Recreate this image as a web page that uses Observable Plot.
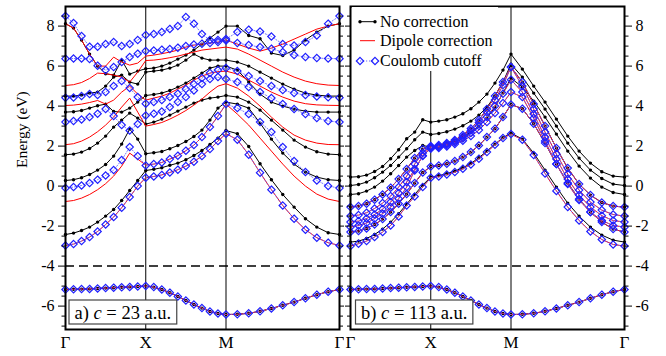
<!DOCTYPE html>
<html><head><meta charset="utf-8">
<script src="https://cdn.jsdelivr.net/npm/d3@7"></script>
<script src="https://cdn.jsdelivr.net/npm/@observablehq/plot@0.6"></script>
<style>
body{margin:0;background:#fff;}
#chart{position:relative;width:666px;height:356px;overflow:hidden;}
#chart svg{position:absolute;top:0;}
#chart svg, #chart svg *{font-family:"Liberation Serif","DejaVu Serif",serif !important;}
</style></head><body><div id="chart"></div>
<script>
// ---- k-path: Γ–X–M–Γ, 10 intervals per segment, segment lengths 1, 1, √2
const kLabels = ["Γ", "X", "M", "Γ"];
const segLengths = [1, 1, Math.SQRT2];
const perSeg = 10;

// ---- shared lowest band (identical in all cases)
const bottomBand = [-5.17,-5.16,-5.15,-5.14,-5.12,-5.1,-5.08,-5.06,-5.04,-5.02,-5.0,
  -5.05,-5.17,-5.33,-5.52,-5.72,-5.92,-6.1,-6.27,-6.37,-6.42,
  -6.41,-6.36,-6.26,-6.12,-5.96,-5.8,-5.61,-5.43,-5.28,-5.17];

// ---- panel a) c = 23 a.u.
const aNoCorr = [
  [-2.42,-2.35,-2.22,-2.05,-1.8,-1.5,-1.17,-0.72,-0.22,0.28,0.78, 0.84,0.92,1.04,1.15,1.32,1.53,1.78,2.08,2.4,2.78, 2.62,1.98,1.12,0.32,-0.42,-1.05,-1.63,-2.05,-2.33,-2.42],
  [0.28,0.32,0.42,0.58,0.8,1.08,1.5,2.1,2.85,2.35,1.62, 1.67,1.73,1.87,2.03,2.23,2.48,2.8,3.3,3.9,4.2, 4.1,3.9,3.15,2.35,1.65,1.1,0.7,0.45,0.32,0.28],
  [1.57,1.6,1.7,1.88,2.15,2.5,2.95,3.3,3.65,3.4,3.1, 3.2,3.35,3.55,3.75,3.95,4.15,4.3,4.4,4.45,4.53, 4.45,4.2,3.8,3.3,2.8,2.3,1.95,1.72,1.6,1.57],
  [3.7,3.72,3.78,3.9,4.02,4.1,3.73,3.7,3.9,4.2,4.53, 4.58,4.65,4.78,4.95,5.15,5.4,5.65,5.9,6.0,6.0, 5.8,5.2,4.6,4.2,4.0,3.85,3.75,3.7,3.7,3.7],
  [4.5,4.5,4.55,4.65,4.7,5.0,5.45,5.55,5.2,5.1,5.7, 5.75,5.8,5.9,6.05,6.3,6.6,6.4,6.3,6.3,6.3, 6.2,6.0,5.7,5.4,5.1,4.85,4.65,4.55,4.5,4.5],
  [8.12,7.9,7.3,6.6,6.0,5.62,5.55,6.3,5.6,5.75,5.87, 5.9,6.0,6.15,6.35,6.55,6.8,7.1,7.4,7.7,8.0, 8.0,7.53,7.37,6.65,6.53,6.8,7.3,7.7,8.0,8.12]
];
const aCutoff = [
  [-2.97,-2.9,-2.75,-2.55,-2.27,-1.92,-1.55,-1.08,-0.55,0.0,0.42, 0.48,0.56,0.68,0.82,1.0,1.22,1.5,1.85,2.25,2.62, 2.32,1.57,0.67,-0.18,-0.97,-1.63,-2.18,-2.58,-2.83,-2.97],
  [-0.1,-0.05,0.03,0.15,0.32,0.53,0.8,1.3,1.95,1.5,1.03, 1.1,1.18,1.35,1.52,1.77,2.05,2.45,2.95,3.5,4.1, 3.9,3.6,3.2,2.7,1.95,1.25,0.7,0.28,0.0,-0.1],
  [3.2,3.25,3.33,3.45,3.62,3.85,3.5,3.05,2.78,3.1,3.53, 3.62,3.73,3.95,4.2,4.45,4.78,5.1,5.35,5.45,5.35, 5.2,4.95,4.7,4.4,4.1,3.85,3.6,3.4,3.25,3.2],
  [4.42,4.43,4.5,4.6,4.55,4.7,5.0,5.25,4.9,4.45,4.12, 4.2,4.3,4.45,4.62,4.85,5.1,5.4,5.65,5.8,5.9, 5.75,5.5,5.25,5.0,4.8,4.65,4.55,4.48,4.44,4.42],
  [6.37,6.38,6.38,6.35,6.02,5.8,5.95,6.2,6.45,6.62,6.75, 6.78,6.82,6.85,6.92,7.0,7.08,7.12,7.15,7.2,7.28, 7.15,7.05,6.95,6.87,6.7,6.55,6.45,6.4,6.38,6.37],
  [8.5,8.15,7.5,6.97,6.97,7.1,7.2,7.0,7.1,7.3,7.55, 7.6,7.7,7.86,8.0,8.45,8.12,7.6,7.3,7.3,7.35, 7.7,7.82,7.73,7.48,7.1,7.03,7.2,7.53,8.12,8.5]
];
const aDipole = [
  [-2.97,-2.9,-2.75,-2.55,-2.27,-1.92,-1.55,-1.08,-0.55,0.0,0.42, 0.48,0.56,0.68,0.82,1.0,1.22,1.5,1.85,2.25,2.62, 2.32,1.57,0.67,-0.18,-0.97,-1.63,-2.18,-2.58,-2.83,-2.97],
  [-0.77,-0.72,-0.6,-0.42,-0.18,0.12,0.5,1.0,1.65,1.35,1.05, 1.1,1.18,1.35,1.52,1.77,2.05,2.45,2.95,3.5,4.1, 3.6,3.05,2.4,1.75,1.1,0.5,0.0,-0.4,-0.65,-0.77],
  [2.07,2.12,2.25,2.45,2.72,3.05,3.45,3.95,4.4,3.7,3.0, 3.08,3.18,3.35,3.55,3.78,4.05,4.35,4.7,5.0,5.12, 4.9,4.5,4.0,3.45,2.95,2.55,2.3,2.15,2.08,2.07],
  [4.03,4.05,4.1,4.18,4.28,4.1,4.3,4.7,5.0,4.6,4.3, 4.4,4.5,4.65,4.85,5.05,5.3,5.5,5.65,5.72,5.75, 5.6,5.3,5.0,4.7,4.45,4.25,4.12,4.06,4.04,4.03],
  [5.03,5.07,5.18,5.38,5.65,5.62,5.55,5.45,5.2,5.7,6.28, 6.3,6.35,6.42,6.5,6.6,6.7,6.8,6.85,6.9,6.95, 6.85,6.6,6.3,6.0,5.7,5.45,5.25,5.12,5.05,5.03],
  [8.12,7.9,7.3,6.6,6.0,6.0,6.45,6.2,6.05,6.15,6.5, 6.55,6.62,6.7,6.8,6.95,7.05,7.1,7.15,7.2,7.3, 7.1,6.9,6.75,6.9,7.1,7.35,7.6,7.85,8.0,8.12]
];

// ---- panel b) c = 113 a.u.
const bNoCorr = [
  [-2.8,-2.75,-2.62,-2.42,-2.15,-1.8,-1.38,-0.9,-0.42,0.05,0.45, 0.52,0.62,0.75,0.92,1.13,1.42,1.75,2.1,2.42,2.65, 2.35,1.65,0.8,-0.05,-0.85,-1.5,-2.05,-2.45,-2.7,-2.8],
  [-2.3,-2.25,-2.12,-1.92,-1.65,-1.3,-0.88,-0.4,0.15,0.68,0.98, 1.03,1.12,1.25,1.45,1.7,2.03,2.45,2.87,3.45,4.08, 3.87,3.12,2.15,1.1,0.15,-0.65,-1.3,-1.8,-2.15,-2.3],
  [-1.05,-1.0,-0.88,-0.68,-0.42,-0.08,0.35,0.85,1.4,1.85,2.0, 2.05,2.15,2.3,2.55,2.88,3.3,3.85,4.5,5.2,5.95, 5.2,4.1,3.0,1.9,0.9,0.1,-0.45,-0.82,-1.0,-1.05],
  [-0.42,-0.38,-0.25,-0.05,0.25,0.62,1.03,1.45,1.78,2.03,1.95, 2.0,2.1,2.25,2.45,2.7,3.0,3.4,3.95,4.65,5.4, 4.95,4.25,3.45,2.6,1.75,1.0,0.4,-0.05,-0.32,-0.42],
  [0.03,0.08,0.2,0.42,0.7,1.03,1.45,1.87,2.32,2.7,2.58, 2.63,2.72,2.85,3.02,3.25,3.55,3.95,4.5,5.2,6.1, 5.45,4.65,3.85,3.0,2.15,1.4,0.8,0.38,0.1,0.03],
  [0.45,0.47,0.55,0.73,0.98,1.37,1.82,2.37,2.7,3.32,3.2, 3.25,3.32,3.45,3.62,3.87,4.2,4.6,5.15,5.8,6.6, 5.85,5.0,4.2,3.35,2.5,1.75,1.15,0.72,0.5,0.45]
];
const bCutoff = [
  [-3.0,-2.88,-2.75,-2.55,-2.3,-1.97,-1.52,-0.97,-0.52,-0.05,0.42, 0.48,0.58,0.7,0.87,1.08,1.37,1.7,2.07,2.4,2.6, 2.32,1.55,0.63,-0.24,-1.05,-1.72,-2.27,-2.67,-2.92,-3.0],
  [-2.3,-2.25,-2.12,-1.92,-1.65,-1.3,-0.88,-0.4,0.15,0.68,0.98, 1.03,1.12,1.25,1.45,1.7,2.03,2.45,2.87,3.45,4.08, 3.87,3.12,2.15,1.1,0.15,-0.65,-1.3,-1.8,-2.15,-2.3],
  [-2.05,-1.97,-1.85,-1.63,-1.38,-1.05,-0.63,-0.05,0.78,1.53,1.87, 1.9,1.98,2.1,2.27,2.5,2.8,3.2,3.65,4.15,4.7, 4.45,3.4,2.25,1.1,0.1,-0.7,-1.3,-1.72,-1.97,-2.05],
  [-1.8,-1.75,-1.62,-1.42,-1.15,-0.8,-0.35,0.2,0.85,1.5,1.93, 1.96,2.05,2.18,2.38,2.65,3.0,3.45,4.0,4.62,5.32, 4.7,3.6,2.45,1.35,0.35,-0.45,-1.05,-1.48,-1.72,-1.8],
  [-1.5,-1.45,-1.33,-1.12,-0.85,-0.5,-0.05,0.5,1.1,1.65,1.97, 2.0,2.1,2.25,2.47,2.78,3.18,3.7,4.3,5.05,5.95, 5.0,3.85,2.7,1.6,0.6,-0.2,-0.8,-1.2,-1.42,-1.5],
  [-1.05,-1.0,-0.88,-0.68,-0.42,-0.08,0.35,0.85,1.4,1.85,2.0, 2.05,2.15,2.3,2.55,2.88,3.3,3.85,4.5,5.2,5.95, 5.2,4.1,3.0,1.9,0.9,0.1,-0.45,-0.82,-1.0,-1.05]
];
const bDipole = bCutoff; // dipole bands coincide with the cutoff bands here

// ---- axis ticks
const majorTicks = [-6, -4, -2, 0, 2, 4, 6, 8];
const minorTicks = [-7,-6.5,-5.5,-5,-4.5,-3.5,-3,-2.5,-1.5,-1,-0.5,0.5,1,1.5,2.5,3,3.5,4.5,5,5.5,6.5,7,7.5,8.5];
const yDomain = [-7.17, 8.98];
const refLine = -4;

// k-point positions along the path
const kx = [];
segLengths.forEach((len, s) => {
  const start = d3.sum(segLengths.slice(0, s));
  for (let i = (s === 0 ? 0 : 1); i <= perSeg; i++) kx.push(start + len * i / perSeg);
});
const kTicks = [0, 1, 2, d3.sum(segLengths)];
const kEnd = kTicks[3];

const FONT = "'Liberation Serif', 'DejaVu Serif', serif";

function rows(bands, name) {
  return [bottomBand, ...bands].flatMap((b, j) => b.map((e, i) => ({k: kx[i], e, band: name + j})));
}

function panel({noCorr, dipole, cutoff, width, marginLeft, marginRight, side}) {
  const black = rows(noCorr, "k"), red = rows(dipole, "r"), blue = rows(cutoff, "b");
  const frameW = width - marginLeft - marginRight;
  const pxPerK = frameW / kEnd;
  const ext = side === "left" ? [0, kEnd + marginRight / pxPerK] : [-marginLeft / pxPerK, kEnd];
  const marks = [
    Plot.ruleX([1, 2], {stroke: "#000", strokeWidth: 1}),
    Plot.ruleY([refLine], {x1: ext[0], x2: ext[1], stroke: "#000", strokeWidth: 1.5, strokeDasharray: "9,5"}),
    Plot.line(black, {x: "k", y: "e", z: "band", stroke: "#000", strokeWidth: 1}),
    Plot.dot(black, {x: "k", y: "e", r: 1.7, fill: "#000", stroke: null}),
    Plot.line(red, {x: "k", y: "e", z: "band", stroke: "#ff0000", strokeWidth: 1}),
    Plot.line(blue, {x: "k", y: "e", z: "band", stroke: "#6a6aff", strokeWidth: 0.9, strokeDasharray: "1.2,1.8"}),
    Plot.dot(blue, {x: "k", y: "e", symbol: "diamond2", r: 3.3, stroke: "#1f1fff", strokeWidth: 1.2, fill: "none"}),
    Plot.axisX({ticks: kTicks, tickSize: 0, tickPadding: 6, fontSize: 17, label: null,
      tickFormat: d => kLabels[kTicks.indexOf(d)]}),
    Plot.frame({stroke: "#000", strokeWidth: 2})
  ];
  const labelSide = side === "left" ? "left" : "right";
  const otherSide = side === "left" ? "right" : "left";
  marks.push(
    Plot.axisY({anchor: labelSide, ticks: majorTicks, tickSize: 7, tickPadding: 4, fontSize: 16, label: null, tickFormat: d => String(d)}),
    Plot.axisY({anchor: labelSide, ticks: minorTicks, tickSize: 3.5, label: null, tickFormat: () => ""}),
    Plot.axisY({anchor: otherSide, ticks: majorTicks, tickSize: 5, label: null, tickFormat: () => ""}),
    Plot.axisY({anchor: otherSide, ticks: minorTicks, tickSize: 3, label: null, tickFormat: () => ""})
  );
  if (side === "left") {
    marks.push(Plot.text(["Energy (eV)"], {frameAnchor: "left", rotate: -90, dx: -43, fontSize: 15.5, fill: "#000"}));
  }
  return Plot.plot({
    width, height: 356, marginLeft, marginRight, marginTop: 6, marginBottom: 27,
    style: {fontFamily: FONT, color: "#000", background: "transparent"},
    x: {domain: [0, kEnd]},
    y: {domain: yDomain},
    marks
  });
}

const container = document.getElementById("chart");
const left = panel({noCorr: aNoCorr, dipole: aDipole, cutoff: aCutoff, width: 344, marginLeft: 65, marginRight: 5, side: "left"});
const right = panel({noCorr: bNoCorr, dipole: bDipole, cutoff: bCutoff, width: 322, marginLeft: 6, marginRight: 42, side: "right"});
left.style.left = "0px";
right.style.left = "344px";
container.append(left, right);

function addNote(svg, x, baseline, parts) {
  const g = d3.select(svg).append("g");
  const rect = g.append("rect");
  const t = g.append("text").attr("x", x).attr("y", baseline).attr("text-anchor", "start")
    .attr("font-size", 18.5).attr("fill", "#000");
  parts.forEach(([s, it]) => t.append("tspan").attr("font-style", it ? "italic" : null).text(s));
  const bb = t.node().getBBox();
  rect.attr("x", bb.x - 5.5).attr("y", 300).attr("width", bb.width + 11).attr("height", 24)
    .attr("fill", "#fff").attr("stroke", "#444").attr("stroke-width", 1.2);
}
addNote(left, 74.5, 318.5, [["a) ", false], ["c", true], [" = 23 a.u.", false]]);
addNote(right, 17, 318.5, [["b) ", false], ["c", true], [" = 113 a.u.", false]]);

// legend (right panel, top-left)
const legendItems = ["No correction", "Dipole correction", "Coulomb cutoff"];
{
  const g = d3.select(right).append("g");
  g.append("rect").attr("x", 8).attr("y", 7).attr("width", 146).attr("height", 64).attr("fill", "#fff");
  const ys = [21.7, 40.7, 61];
  const x0 = 16, x1 = 31;
  g.append("line").attr("x1", x0).attr("x2", x1).attr("y1", ys[0]).attr("y2", ys[0]).attr("stroke", "#000");
  [x0, x1].forEach(x => g.append("circle").attr("cx", x).attr("cy", ys[0]).attr("r", 1.7).attr("fill", "#000"));
  g.append("line").attr("x1", x0).attr("x2", x1).attr("y1", ys[1]).attr("y2", ys[1]).attr("stroke", "#ff0000");
  g.append("line").attr("x1", x0).attr("x2", x1).attr("y1", ys[2]).attr("y2", ys[2]).attr("stroke", "#6a6aff").attr("stroke-dasharray", "1.2,1.8");
  [x0, x1].forEach(x => g.append("path").attr("d", d3.symbol(d3.symbolDiamond2, Math.PI * 3.3 * 3.3)())
    .attr("transform", `translate(${x},${ys[2]})`).attr("fill", "none").attr("stroke", "#1f1fff").attr("stroke-width", 1.2));
  legendItems.forEach((s, i) => g.append("text").attr("x", 36).attr("y", ys[i] + 5).attr("text-anchor", "start")
    .attr("font-size", 16).attr("fill", "#000").text(s));
}
</script></body></html>
